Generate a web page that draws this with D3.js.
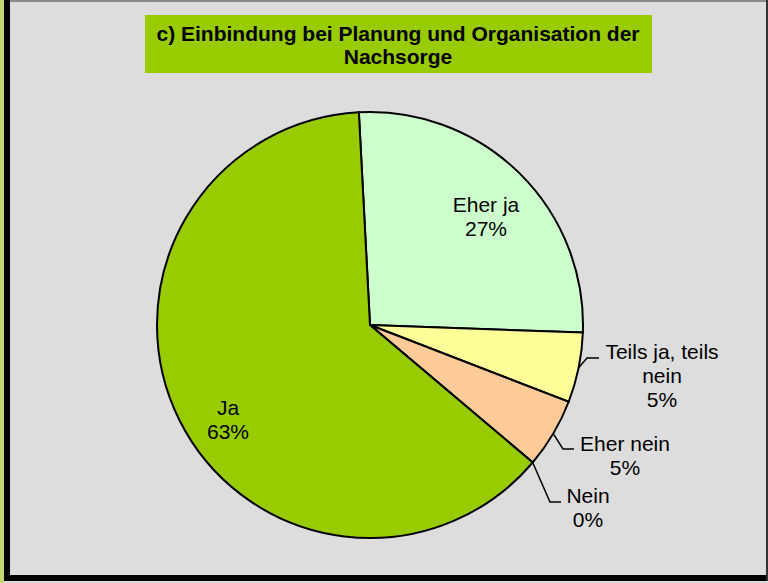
<!DOCTYPE html>
<html lang="de">
<head>
  <meta charset="UTF-8">
  <script src="https://d3js.org/d3.v7.min.js"></script>
  <style>
    body { margin: 0; background: #dddddd; }
    svg { display: block; font-family: "Liberation Sans", Arial, sans-serif; }
  </style>
</head>
<body>
<div id="my_dataviz"></div>
<script>
// data, clockwise from the top
var categories = ["Eher ja", "Teils ja, teils nein", "Eher nein", "Nein", "Ja"];
var shares = [26.4, 5.3, 5.3, 0, 63.0];
var labels = ["27%", "5%", "5%", "0%", "63%"];
var colors = ["#ccffcc", "#ffff99", "#ffcc99", "#ff9966", "#99cc00"];

var W = 768, H = 583;
var cx = 370, cy = 325, radius = 213;

var svg = d3.select("#my_dataviz")
  .append("svg")
  .attr("width", W)
  .attr("height", H);

// frame
svg.append("rect").attr("x", 0).attr("y", 0).attr("width", W).attr("height", H).attr("fill", "#dddddd");
svg.append("rect").attr("x", 0).attr("y", 0).attr("width", 4).attr("height", H).attr("fill", "#c2d86e");
svg.append("rect").attr("x", 4).attr("y", 0).attr("width", W - 4).attr("height", 2).attr("fill", "#8a8a8a");
svg.append("rect").attr("x", 4).attr("y", 0).attr("width", 6).attr("height", 581).attr("fill", "#000");
svg.append("rect").attr("x", 4).attr("y", 575).attr("width", W - 4).attr("height", 6).attr("fill", "#000");
svg.append("rect").attr("x", 766).attr("y", 0).attr("width", 2).attr("height", 581).attr("fill", "#333");

// title box
svg.append("rect")
  .attr("x", 145).attr("y", 15).attr("width", 507).attr("height", 58)
  .attr("fill", "#99cc00");
var title = svg.append("text")
  .attr("text-anchor", "middle")
  .attr("font-size", 21)
  .attr("font-weight", "bold")
  .attr("fill", "#000");
title.append("tspan").attr("x", 398).attr("y", 41).text("c) Einbindung bei Planung und Organisation der");
title.append("tspan").attr("x", 398).attr("y", 64).text("Nachsorge");

// pie
var startDeg = -3;
var pie = d3.pie()
  .sort(null)
  .value(function(d) { return d; })
  .startAngle(startDeg * Math.PI / 180)
  .endAngle((startDeg + 360) * Math.PI / 180);
var arcs = pie(shares);

var arc = d3.arc().innerRadius(0).outerRadius(radius);

var g = svg.append("g").attr("transform", "translate(" + cx + "," + cy + ")");

g.selectAll("path")
  .data(arcs)
  .enter()
  .append("path")
    .attr("d", arc)
    .attr("fill", function(d, i) { return colors[i]; })
    .attr("stroke", "#000")
    .attr("stroke-width", 2)
    .attr("stroke-linejoin", "miter");

// label placement (layout, not data)
var inside = { 0: [116, -113], 4: [-142, 90] };
var outside = {
  1: { elbow: [217, 33], end: [229, 33], text: [292, 34], lines: ["Teils ja, teils", "nein"] },
  2: { elbow: [193, 124], end: [204, 124], text: [255, 126], lines: ["Eher nein"] },
  3: { elbow: [180, 177], end: [191, 177], text: [218, 178], lines: ["Nein"] }
};

function edgePoint(d, r) {
  var a = (d.startAngle + d.endAngle) / 2;
  return [r * Math.sin(a), -r * Math.cos(a)];
}

arcs.forEach(function(d, i) {
  var lines, pos;
  if (inside[i]) {
    lines = [categories[i]];
    pos = inside[i];
  } else {
    var o = outside[i];
    var p0 = edgePoint(d, radius);
    g.append("polyline")
      .attr("points", [p0, o.elbow, o.end].map(function(p) { return p.join(","); }).join(" "))
      .attr("fill", "none")
      .attr("stroke", "#000")
      .attr("stroke-width", 1.5);
    lines = o.lines;
    pos = o.text;
  }
  var t = g.append("text")
    .attr("text-anchor", "middle")
    .attr("font-size", 21)
    .attr("fill", "#000");
  lines.concat([labels[i]]).forEach(function(s, k) {
    t.append("tspan").attr("x", pos[0]).attr("y", pos[1] + k * 24).text(s);
  });
});
</script>
</body>
</html>
